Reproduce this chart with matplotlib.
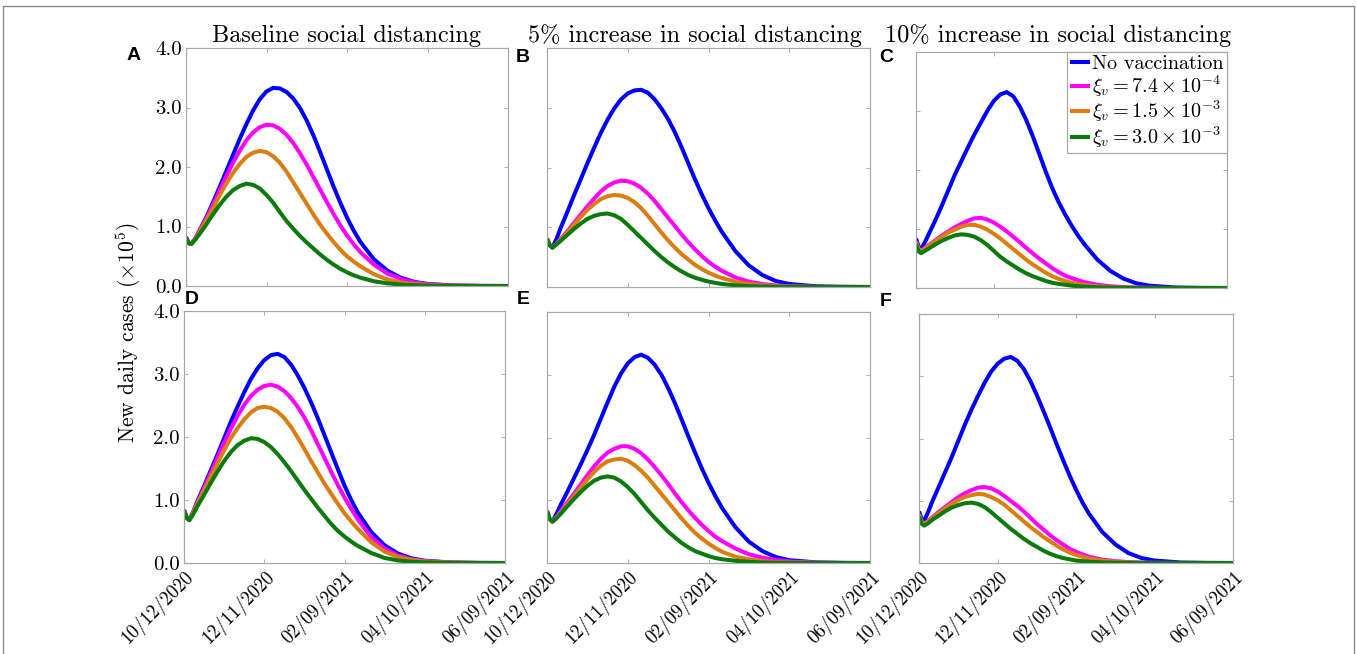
import matplotlib
matplotlib.use("Agg")
import matplotlib.pyplot as plt
from matplotlib.patches import Rectangle

# ---------------------------------------------------------------- data
# days since 10/12/2020
DAYS = [0, 2, 4, 7, 10, 15, 20, 25, 30, 35, 40, 45, 50, 55, 60, 65, 70, 75,
        80, 85, 90, 95, 100, 105, 110, 115, 120, 125, 130, 140, 150, 160,
        170, 180, 200, 220, 240]
TICK_DAYS = [0, 60, 120, 180, 240]
TICK_LABELS = ["10/12/2020", "12/11/2020", "02/09/2021", "04/10/2021", "06/09/2021"]
COL_TITLES = ["Baseline social distancing",
              "5% increase in social distancing",
              "10% increase in social distancing"]
PANEL_LETTERS = ["A", "B", "C", "D", "E", "F"]
SERIES = ["No vaccination",
          r"$\xi_v = 7.4 \times 10^{-4}$",
          r"$\xi_v = 1.5 \times 10^{-3}$",
          r"$\xi_v = 3.0 \times 10^{-3}$"]

# new daily cases (x 10^5), panels A..F
A_none = [.82, .72, .71, .80, .93, 1.15, 1.40, 1.66, 1.93, 2.20, 2.47, 2.72, 2.95, 3.14, 3.27, 3.33, 3.32, 3.26,
          3.15, 2.99, 2.78, 2.53, 2.25, 1.96, 1.67, 1.40, 1.15, 0.93, 0.74, 0.45, 0.26, 0.14, 0.07, 0.035, 0.008, 0.002, 0.0]
A_low = [.82, .72, .71, .80, .92, 1.13, 1.36, 1.60, 1.84, 2.07, 2.27, 2.45, 2.58, 2.67, 2.71, 2.70, 2.64, 2.54,
         2.40, 2.23, 2.04, 1.83, 1.62, 1.41, 1.21, 1.02, 0.85, 0.70, 0.57, 0.36, 0.21, 0.12, 0.06, 0.03, 0.007, 0.001, 0.0]
A_mid = [.82, .72, .71, .79, .90, 1.10, 1.30, 1.52, 1.72, 1.90, 2.05, 2.17, 2.24, 2.27, 2.25, 2.18, 2.07, 1.92,
         1.74, 1.56, 1.38, 1.20, 1.03, 0.88, 0.74, 0.61, 0.50, 0.41, 0.33, 0.20, 0.11, 0.06, 0.03, 0.015, 0.003, 0.0, 0.0]
A_high = [.82, .72, .71, .78, .87, 1.03, 1.20, 1.36, 1.50, 1.61, 1.68, 1.72, 1.70, 1.64, 1.53, 1.40, 1.24, 1.09,
          0.96, 0.84, 0.73, 0.63, 0.53, 0.44, 0.36, 0.29, 0.23, 0.18, 0.14, 0.08, 0.045, 0.024, 0.012, 0.006, 0.001, 0.0, 0.0]

B_none = [.81, .70, .66, .80, .98, 1.25, 1.53, 1.80, 2.07, 2.33, 2.58, 2.80, 2.99, 3.14, 3.24, 3.29, 3.30, 3.25,
          3.14, 2.99, 2.81, 2.59, 2.34, 2.07, 1.80, 1.55, 1.32, 1.11, 0.92, 0.60, 0.36, 0.20, 0.10, 0.05, 0.012, 0.003, 0.0]
B_low = [.81, .70, .66, .72, .80, .93, 1.07, 1.21, 1.35, 1.48, 1.60, 1.69, 1.75, 1.78, 1.77, 1.73, 1.66, 1.56,
         1.44, 1.30, 1.16, 1.02, 0.88, 0.75, 0.63, 0.52, 0.42, 0.34, 0.27, 0.16, 0.09, 0.05, 0.026, 0.013, 0.003, 0.001, 0.0]
B_mid = [.81, .70, .66, .72, .79, .91, 1.04, 1.17, 1.29, 1.39, 1.47, 1.52, 1.54, 1.53, 1.49, 1.42, 1.32, 1.19,
         1.05, 0.91, 0.78, 0.66, 0.55, 0.46, 0.37, 0.30, 0.24, 0.19, 0.15, 0.09, 0.05, 0.03, 0.015, 0.008, 0.002, 0.0, 0.0]
B_high = [.81, .70, .66, .71, .77, .87, .97, 1.06, 1.14, 1.19, 1.22, 1.23, 1.20, 1.14, 1.04, 0.93, 0.82, 0.71,
          0.60, 0.50, 0.41, 0.33, 0.26, 0.20, 0.155, 0.12, 0.09, 0.07, 0.05, 0.028, 0.015, 0.008, 0.004, 0.002, 0.0, 0.0, 0.0]

C_none = [.84, .70, .66, .78, .92, 1.15, 1.40, 1.66, 1.92, 2.15, 2.38, 2.60, 2.80, 3.00, 3.17, 3.28, 3.32, 3.25,
          3.08, 2.85, 2.58, 2.28, 1.98, 1.70, 1.46, 1.25, 1.06, 0.89, 0.74, 0.48, 0.29, 0.16, 0.08, 0.04, 0.009, 0.002, 0.0]
C_low = [.78, .66, .63, .68, .73, .81, .89, .96, 1.03, 1.09, 1.14, 1.18, 1.19, 1.16, 1.11, 1.04, 0.96, 0.87,
         0.78, 0.68, 0.59, 0.50, 0.42, 0.34, 0.27, 0.21, 0.17, 0.13, 0.10, 0.055, 0.03, 0.015, 0.008, 0.004, 0.001, 0.0, 0.0]
C_mid = [.78, .66, .63, .67, .72, .80, .87, .94, .99, 1.04, 1.07, 1.07, 1.04, .99, .92, .84, .75, .66,
         .57, .48, .40, .33, .26, .20, .155, .12, .09, .07, .05, .027, .014, .007, .003, .002, 0.0, 0.0, 0.0]
C_high = [.75, .62, .59, .63, .67, .74, .80, .85, .89, .91, .90, .87, .81, .73, .63, .53, .45, .38,
          .31, .25, .20, .16, .12, .09, .07, .055, .04, .03, .022, .012, .006, .003, .001, 0.0, 0.0, 0.0, 0.0]

D_none = [.84, .72, .68, .82, .98, 1.22, 1.47, 1.72, 1.98, 2.24, 2.48, 2.71, 2.92, 3.09, 3.22, 3.30, 3.32, 3.27,
          3.15, 2.98, 2.78, 2.55, 2.30, 2.03, 1.76, 1.49, 1.23, 1.00, 0.80, 0.49, 0.28, 0.15, 0.075, 0.036, 0.008, 0.002, 0.0]
D_low = [.84, .72, .68, .81, .96, 1.19, 1.43, 1.67, 1.91, 2.13, 2.33, 2.51, 2.65, 2.75, 2.81, 2.83, 2.80, 2.73,
         2.62, 2.48, 2.31, 2.11, 1.89, 1.67, 1.45, 1.24, 1.04, 0.86, 0.69, 0.41, 0.23, 0.12, 0.06, 0.03, 0.007, 0.001, 0.0]
D_mid = [.84, .72, .68, .80, .94, 1.15, 1.37, 1.58, 1.79, 1.98, 2.14, 2.28, 2.39, 2.46, 2.48, 2.46, 2.40, 2.30,
         2.16, 1.99, 1.81, 1.62, 1.44, 1.26, 1.10, 0.94, 0.79, 0.66, 0.54, 0.33, 0.18, 0.095, 0.05, 0.025, 0.005, 0.001, 0.0]
D_high = [.84, .72, .68, .78, .90, 1.08, 1.27, 1.45, 1.62, 1.76, 1.87, 1.94, 1.98, 1.97, 1.92, 1.84, 1.73, 1.60,
          1.46, 1.31, 1.16, 1.02, 0.88, 0.75, 0.62, 0.51, 0.42, 0.34, 0.27, 0.16, 0.08, 0.04, 0.02, 0.01, 0.002, 0.0, 0.0]

E_none = [.83, .70, .66, .78, .92, 1.13, 1.35, 1.57, 1.80, 2.04, 2.30, 2.56, 2.81, 3.02, 3.18, 3.28, 3.32, 3.27,
          3.16, 3.00, 2.79, 2.55, 2.29, 2.02, 1.76, 1.51, 1.28, 1.07, 0.88, 0.57, 0.34, 0.19, 0.095, 0.045, 0.01, 0.002, 0.0]
E_low = [.83, .70, .66, .73, .82, .96, 1.10, 1.25, 1.40, 1.54, 1.66, 1.76, 1.82, 1.86, 1.86, 1.82, 1.75, 1.65,
         1.53, 1.40, 1.26, 1.11, 0.97, 0.84, 0.72, 0.61, 0.51, 0.42, 0.35, 0.23, 0.14, 0.085, 0.05, 0.025, 0.006, 0.001, 0.0]
E_mid = [.83, .70, .66, .72, .80, .93, 1.06, 1.20, 1.33, 1.45, 1.55, 1.62, 1.65, 1.66, 1.63, 1.56, 1.47, 1.36,
         1.23, 1.10, 0.97, 0.84, 0.71, 0.59, 0.48, 0.39, 0.31, 0.24, 0.18, 0.10, 0.06, 0.03, 0.016, 0.008, 0.002, 0.0, 0.0]
E_high = [.83, .70, .66, .71, .78, .90, 1.02, 1.13, 1.23, 1.31, 1.36, 1.38, 1.36, 1.30, 1.21, 1.10, 0.97, 0.84,
          0.72, 0.61, 0.50, 0.41, 0.32, 0.25, 0.19, 0.15, 0.11, 0.08, 0.06, 0.035, 0.018, 0.009, 0.004, 0.002, 0.0, 0.0, 0.0]

F_none = [.83, .71, .68, .82, .98, 1.22, 1.46, 1.70, 1.96, 2.22, 2.46, 2.68, 2.89, 3.07, 3.20, 3.28, 3.31, 3.25,
          3.12, 2.93, 2.70, 2.45, 2.19, 1.92, 1.66, 1.41, 1.18, 0.97, 0.79, 0.50, 0.30, 0.16, 0.08, 0.04, 0.008, 0.002, 0.0]
F_low = [.78, .66, .63, .68, .73, .82, .90, .98, 1.06, 1.12, 1.17, 1.21, 1.22, 1.20, 1.15, 1.08, 1.00, 0.92,
         0.83, 0.73, 0.63, 0.54, 0.45, 0.37, 0.30, 0.23, 0.18, 0.14, 0.10, 0.055, 0.03, 0.015, 0.007, 0.004, 0.001, 0.0, 0.0]
F_mid = [.78, .66, .63, .67, .72, .80, .88, .95, 1.01, 1.06, 1.09, 1.11, 1.10, 1.06, 1.01, .94, .85, .76,
         .67, .58, .50, .42, .35, .28, .22, .17, .13, .10, .07, .04, .02, .01, .005, .002, 0.0, 0.0, 0.0]
F_high = [.75, .63, .60, .64, .69, .76, .83, .89, .93, .96, .97, .95, .90, .82, .73, .64, .55, .47,
          .39, .32, .26, .20, .15, .11, .08, .06, .04, .03, .02, .01, .005, .002, .001, 0.0, 0.0, 0.0, 0.0]

PANELS = [
    [A_none, A_low, A_mid, A_high],
    [B_none, B_low, B_mid, B_high],
    [C_none, C_low, C_mid, C_high],
    [D_none, D_low, D_mid, D_high],
    [E_none, E_low, E_mid, E_high],
    [F_none, F_low, F_mid, F_high],
]

COLOURS = ["#0000ff", "#ff00ff", "#dc7d10", "#0a7a0a"]

# ---------------------------------------------------------------- layout
W, H = 1357, 654
# axes boxes in pixels: x0, y0 (top), x1, y1 (bottom)
BOXES = [
    (186, 48, 508, 286), (547, 48, 870, 287), (916, 52, 1227, 288),
    (184, 311, 505, 563), (547, 312, 870, 563), (919, 314, 1233, 563),
]
LETTER_POS = [(134, 55), (523, 57), (886, 58), (192, 299), (523, 300), (886, 301)]
TITLE_X = [346, 695, 1058]

plt.rcParams["font.family"] = ["cmr10", "DejaVu Serif"]
plt.rcParams["mathtext.fontset"] = "cm"
plt.rcParams["axes.unicode_minus"] = False

fig = plt.figure(figsize=(W / 100, H / 100), dpi=100)
fig.patches.append(Rectangle((3 / W, -0.1), (1354 - 3) / W, 1.1 - 6 / H,
                             transform=fig.transFigure, fill=False,
                             edgecolor="#8c8c8c", linewidth=1.0))

axes = []
for i, (x0, y0, x1, y1) in enumerate(BOXES):
    ax = fig.add_axes([x0 / W, 1 - y1 / H, (x1 - x0) / W, (y1 - y0) / H])
    axes.append(ax)
    for series, colour in zip(PANELS[i], COLOURS):
        ax.plot(DAYS, series, color=colour, linewidth=2.9,
                solid_joinstyle="round", solid_capstyle="butt")
    ax.set_xlim(0, 240)
    ax.set_ylim(0, 4)
    ax.set_xticks(TICK_DAYS)
    ax.set_yticks([0, 1, 2, 3, 4])
    ax.tick_params(direction="in", length=3, width=0.6, color="#a0a0a0",
                   top=True, right=True, labelsize=15, pad=3)
    for s in ax.spines.values():
        s.set_color("#a8a8a8")
        s.set_linewidth(0.9)
    if i % 3 == 0:
        ax.set_yticklabels(["0.0", "1.0", "2.0", "3.0", "4.0"])
    else:
        ax.set_yticklabels([])
    if i >= 3:
        ax.set_xticklabels(TICK_LABELS, rotation=45, ha="right",
                           rotation_mode="anchor", fontsize=13.5)
    else:
        ax.set_xticklabels([])
        fig.text(TITLE_X[i] / W, 1 - 36 / H, COL_TITLES[i], fontsize=17.5,
                 ha="center", va="center")
    lx, ly = LETTER_POS[i]
    fig.text(lx / W, 1 - ly / H, PANEL_LETTERS[i], fontsize=14,
             fontweight="bold", family="Liberation Sans",
             ha="center", va="center")

leg = axes[2].legend(SERIES, loc="upper right", fontsize=14.5,
                     handlelength=1.0, handletextpad=0.1, borderpad=0.15,
                     labelspacing=0.0, borderaxespad=0.0, fancybox=False,
                     framealpha=1.0, edgecolor="#a8a8a8")
leg.get_frame().set_linewidth(0.9)

fig.text(128 / W, 1 - 333 / H, r"New daily cases $(\times 10^5)$",
         rotation=90, fontsize=15.5, ha="center", va="center")

fig.savefig("out.png", dpi=100)
